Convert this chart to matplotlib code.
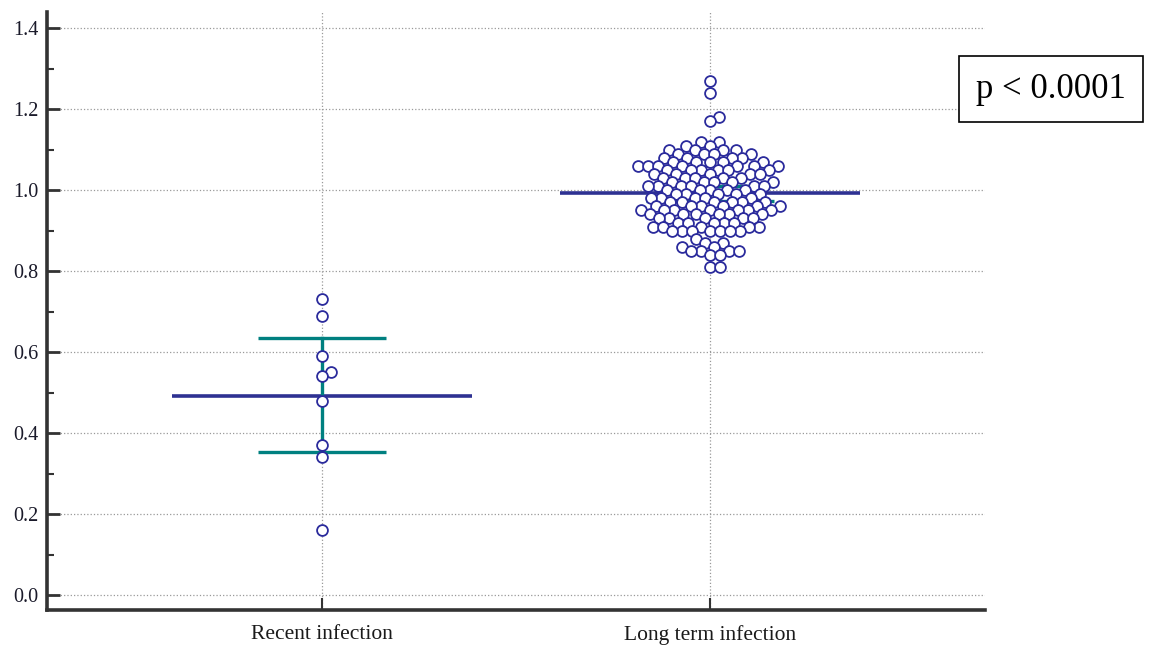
import numpy as np
import matplotlib.pyplot as plt

plt.rcParams['font.family'] = ['Liberation Serif', 'DejaVu Serif']

categories = ['Recent infection', 'Long term infection']

recent_values = [0.73, 0.69, 0.59, 0.55, 0.54, 0.48, 0.37, 0.34, 0.16]

# long term group read as value / how many dots at that value
long_levels = [1.27, 1.24, 1.18, 1.17, 1.12, 1.11, 1.10, 1.09, 1.08, 1.07, 1.06,
               1.05, 1.04, 1.03, 1.02, 1.01, 1.00, 0.99, 0.98, 0.97, 0.96, 0.95,
               0.94, 0.93, 0.92, 0.91, 0.90, 0.88, 0.87, 0.86, 0.85, 0.84, 0.81]
long_counts = [1, 1, 1, 1, 2, 2, 4, 4, 4, 5, 7,
               6, 5, 5, 5, 6, 5, 5, 5, 6, 6, 7,
               6, 5, 5, 5, 7, 1, 2, 2, 4, 2, 2]

means = [0.491, 0.993]
ci_low = [0.353, 0.973]
ci_high = [0.635, 1.010]

p_text = 'p < 0.0001'

long_values = np.repeat(long_levels, long_counts)

W, H, DPI = 1149, 653, 100
ax_left, ax_right, ax_bottom, ax_top = 47, 985, 610, 12
xlim = (-0.709, 1.709)
ylim = (-0.037, 1.44)

x_px = (ax_right - ax_left) / (xlim[1] - xlim[0])   # pixels per x unit
y_px = (ax_bottom - ax_top) / (ylim[1] - ylim[0])   # pixels per y unit


def swarm(vals, dx_min, dy_min):
    # beeswarm in pixel space with an elliptical keep-out, x offsets in data units
    vals = np.asarray(vals, dtype=float)
    k = dx_min / dy_min
    d = dx_min
    placed = []
    offs = np.zeros(len(vals))
    for i in np.argsort(vals):
        y = vals[i] * y_px * k
        cands = [0.0]
        for px, py in placed:
            dy = abs(py - y)
            if dy < d:
                dx = np.sqrt(d * d - dy * dy)
                cands += [px + dx, px - dx]
        cands.sort(key=abs)
        for c in cands:
            ok = True
            for px, py in placed:
                if (c - px) ** 2 + (y - py) ** 2 < d * d - 1e-6:
                    ok = False
                    break
            if ok:
                placed.append((c, y))
                offs[i] = c / x_px
                break
    return offs


fig = plt.figure(figsize=(W / DPI, H / DPI), dpi=DPI)
ax = fig.add_axes([ax_left / W, 1 - ax_bottom / H,
                   (ax_right - ax_left) / W, (ax_bottom - ax_top) / H])

dot_col = '#2b2b9c'
mean_col = '#2e3192'
teal = '#008080'

groups = [recent_values, long_values]
for i, vals in enumerate(groups):
    half = 150 / x_px
    cap = 64 / x_px
    ax.plot([i - half, i + half], [means[i], means[i]], color=mean_col, lw=2.6,
            solid_capstyle='butt', zorder=2)
    ax.plot([i, i], [ci_low[i], ci_high[i]], color=teal, lw=2.4, zorder=2)
    for v in (ci_low[i], ci_high[i]):
        ax.plot([i - cap, i + cap], [v, v], color=teal, lw=2.4,
                solid_capstyle='butt', zorder=2)
    offs = swarm(vals, 10.0, 9.0)
    ax.plot(i + offs, vals, 'o', ms=7.8, mfc='white', mec=dot_col, mew=1.3,
            zorder=3, clip_on=False)

ax.set_xlim(*xlim)
ax.set_ylim(*ylim)
ax.set_xticks([0, 1])
ax.set_xticklabels(categories)
ax.set_yticks(np.arange(0, 1.41, 0.2))
ax.set_yticks(np.arange(0.1, 1.41, 0.2), minor=True)
ax.yaxis.set_major_formatter(plt.FormatStrFormatter('%.1f'))

ax.grid(True, which='major', linestyle=':', color='#999999', lw=0.9, zorder=0)
ax.set_axisbelow(True)

for s in ['top', 'right']:
    ax.spines[s].set_visible(False)
for s in ['left', 'bottom']:
    ax.spines[s].set_linewidth(2.6)
    ax.spines[s].set_color('#333333')

ax.tick_params(axis='y', which='major', direction='in', length=9, width=2,
               color='#333333', labelsize=14.5, labelcolor='#1a1a2a', pad=6)
ax.tick_params(axis='y', which='minor', direction='in', length=5, width=1.5,
               color='#333333')
ax.tick_params(axis='x', direction='in', length=9, width=1.5, color='#333333',
               labelsize=15.5, labelcolor='#1a1a1a', pad=11)

fig.text(1051 / W, 1 - 89 / H, p_text, fontsize=25, ha='center', va='center',
         bbox=dict(boxstyle='square,pad=0.48', fc='white', ec='black', lw=1.2))

fig.savefig('out.png', dpi=DPI)
